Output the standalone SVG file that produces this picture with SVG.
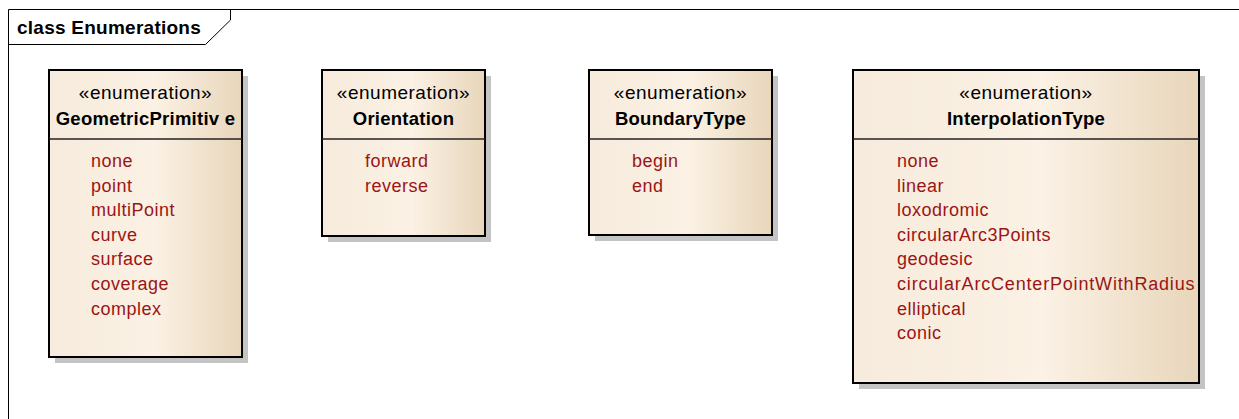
<svg xmlns="http://www.w3.org/2000/svg" width="1239" height="419" viewBox="0 0 1239 419">
<style>
.frame{fill:none;stroke:#000;stroke-width:1}
.box{stroke:#000;stroke-width:2;fill:url(#g)}
.shadow{fill:#c4c4c4}
.div{stroke:#222;stroke-width:1.5}
.st{font-family:"Liberation Sans",Arial,sans-serif;font-size:19px;fill:#000;text-anchor:middle;letter-spacing:0.5px}
.nm{font-family:"Liberation Sans",Arial,sans-serif;font-size:18.5px;font-weight:bold;fill:#000;text-anchor:middle;letter-spacing:0.25px}
.it{font-family:"Liberation Sans",Arial,sans-serif;font-size:18px;fill:#9b1515;letter-spacing:0.5px}
.title{font-family:"Liberation Sans",Arial,sans-serif;font-size:19px;font-weight:bold;fill:#000;letter-spacing:0.25px}
</style>
<defs>
<linearGradient id="g" x1="0" y1="0" x2="1" y2="0">
<stop offset="0" stop-color="#f6ebdc"/>
<stop offset="0.55" stop-color="#fbf1e4"/>
<stop offset="1" stop-color="#e8d6bb"/>
</linearGradient>
</defs>
<rect width="1239" height="419" fill="#fff"/>
<g id="frame">
<path class="frame" d="M1239,9.5 H8.5 V419"/>
<path class="frame" d="M8.5,44.5 H205.5 L230.5,20 V9.5"/>
<text class="title" x="17" y="34">class Enumerations</text>
</g>
<g id="GeometricPrimitive">
<rect class="shadow" x="55" y="76" width="193" height="287"/>
<rect class="box" x="49" y="70" width="193" height="287"/>
<line class="div" x1="49" y1="139" x2="242" y2="139"/>
<text class="st" x="145.5" y="99">«enumeration»</text>
<text class="nm" x="145.5" y="125">GeometricPrimitiv e</text>
<text class="it" x="91" y="167">none</text>
<text class="it" x="91" y="191.6">point</text>
<text class="it" x="91" y="216.2">multiPoint</text>
<text class="it" x="91" y="240.8">curve</text>
<text class="it" x="91" y="265.4">surface</text>
<text class="it" x="91" y="290">coverage</text>
<text class="it" x="91" y="314.6">complex</text>
</g>
<g id="Orientation">
<rect class="shadow" x="328" y="76" width="163" height="166"/>
<rect class="box" x="322" y="70" width="163" height="166"/>
<line class="div" x1="322" y1="139" x2="485" y2="139"/>
<text class="st" x="403.5" y="99">«enumeration»</text>
<text class="nm" x="403.5" y="125">Orientation</text>
<text class="it" x="365" y="167">forward</text>
<text class="it" x="365" y="191.6">reverse</text>
</g>
<g id="BoundaryType">
<rect class="shadow" x="595" y="76" width="183" height="165"/>
<rect class="box" x="589" y="70" width="183" height="165"/>
<line class="div" x1="589" y1="139" x2="772" y2="139"/>
<text class="st" x="680.5" y="99">«enumeration»</text>
<text class="nm" x="680.5" y="125">BoundaryType</text>
<text class="it" x="632" y="167">begin</text>
<text class="it" x="632" y="191.6">end</text>
</g>
<g id="InterpolationType">
<rect class="shadow" x="859" y="76" width="346" height="313"/>
<rect class="box" x="853" y="70" width="346" height="313"/>
<line class="div" x1="853" y1="139" x2="1199" y2="139"/>
<text class="st" x="1026" y="99">«enumeration»</text>
<text class="nm" x="1026" y="125">InterpolationType</text>
<text class="it" x="897" y="167">none</text>
<text class="it" x="897" y="191.6">linear</text>
<text class="it" x="897" y="216.2">loxodromic</text>
<text class="it" x="897" y="240.8">circularArc3Points</text>
<text class="it" x="897" y="265.4">geodesic</text>
<text class="it" x="897" y="290" textLength="298" lengthAdjust="spacing">circularArcCenterPointWithRadius</text>
<text class="it" x="897" y="314.6">elliptical</text>
<text class="it" x="897" y="339.2">conic</text>
</g>
<g id="connectors"/>
</svg>
